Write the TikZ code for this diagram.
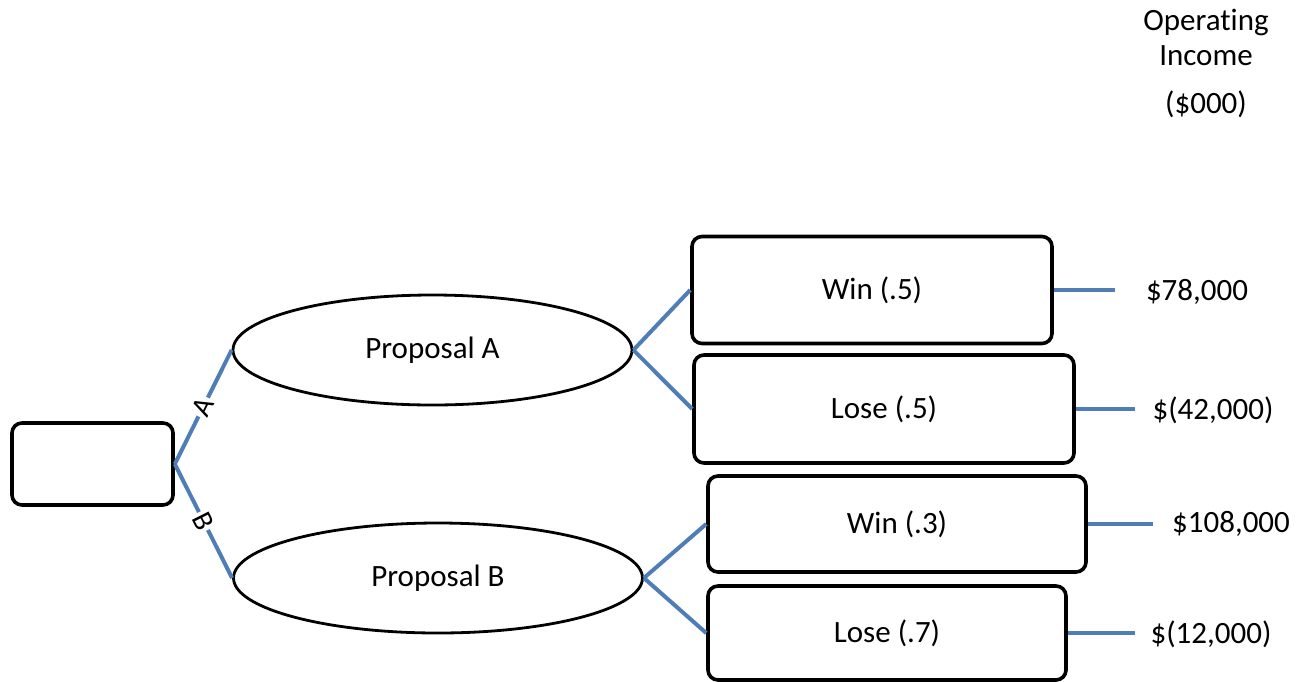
\documentclass[tikz,border=0pt]{standalone}
\usepackage{fontspec}
\setmainfont[Ligatures={NoCommon}]{Carlito}
\usetikzlibrary{shapes.geometric}
\definecolor{linkblue}{HTML}{4F7DB5}
\tikzset{
  box/.style={draw=black, line width=3.6pt, rounded corners=10pt, inner sep=0pt},
  ell/.style={ellipse, draw=black, line width=2.8pt, inner sep=0pt},
  link/.style={draw=linkblue, line width=4pt},
  lbl/.style={font=\fontsize{31}{36}\selectfont},
  pay/.style={font=\fontsize{31}{36}\selectfont, anchor=center},
  branch/.style={fill=white, inner sep=2pt, sloped, font=\fontsize{29}{34}\selectfont}
}
\begin{document}
\begin{tikzpicture}[x=1pt,y=-1pt]
\useasboundingbox (0,0) rectangle (1306,681);
% root
\node[box, minimum width=161pt, minimum height=82pt] (root) at (92.5,464) {};
% ellipses
\node[ell, minimum width=399pt, minimum height=110pt, lbl] (ellA) at (432.5,350) {Proposal A};
\node[ell, minimum width=409pt, minimum height=110pt, lbl] (ellB) at (438,578) {Proposal B};
% outcome boxes
\node[box, minimum width=360pt, minimum height=107pt, lbl] (win5) at (872,290) {Win (.5)};
\node[box, minimum width=380pt, minimum height=108pt, lbl] (lose5) at (884,409) {Lose (.5)};
\node[box, minimum width=378pt, minimum height=96pt, lbl] (win3) at (897,524) {Win (.3)};
\node[box, minimum width=358pt, minimum height=94pt, lbl] (lose7) at (887,633) {Lose (.7)};
% connectors root -> ellipses
\draw[link] (root.east) -- node[branch] {A} (ellA.west);
\draw[link] (root.east) -- node[branch] {B} (ellB.west);
% ellipses -> boxes
\draw[link] (ellA.east) -- (win5.west);
\draw[link] (ellA.east) -- (lose5.west);
\draw[link] (ellB.east) -- (win3.west);
\draw[link] (ellB.east) -- (lose7.west);
% payoffs
\coordinate (p1) at (1115,290);
\coordinate (p2) at (1135,409);
\coordinate (p3) at (1153,524);
\coordinate (p4) at (1135,633);
\draw[link] (win5.east) -- (p1);
\draw[link] (lose5.east) -- (p2);
\draw[link] (win3.east) -- (p3);
\draw[link] (lose7.east) -- (p4);
\node[pay] (v1) at (1197,292) {\$78,000};
\node[pay] (v2) at (1213,410) {\$(42,000)};
\node[pay] (v3) at (1231,524) {\$108,000};
\node[pay] (v4) at (1211,634) {\$(12,000)};
% header
\node[pay] (h1) at (1206,22) {Operating};
\node[pay] (h2) at (1206,56) {Income};
\node[pay] (h3) at (1206,104) {(\$000)};
\end{tikzpicture}
\end{document}
